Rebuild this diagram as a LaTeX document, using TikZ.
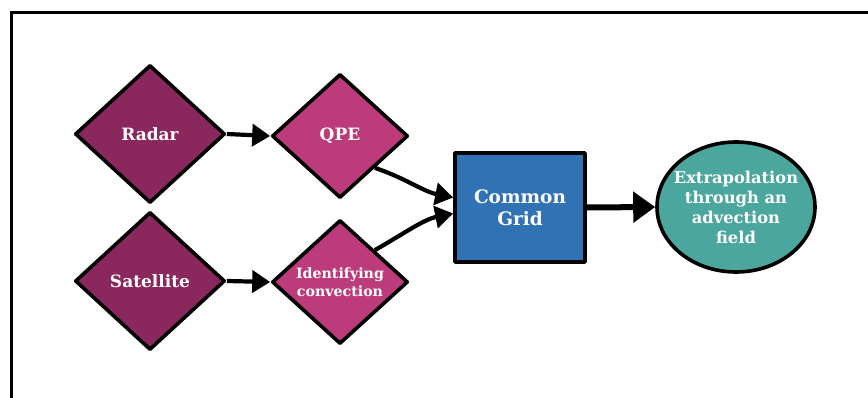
\documentclass[tikz,border=0pt]{standalone}
\usepackage{fontspec}
\setmainfont{DejaVu Serif}
\usetikzlibrary{shapes.geometric,arrows.meta,calc}

\definecolor{srcpurple}{HTML}{8A285D}
\definecolor{procpink}{HTML}{BC3C7B}
\definecolor{gridblue}{HTML}{3172B4}
\definecolor{outteal}{HTML}{4BA79D}

\tikzset{
  box/.style={draw=black,line width=3.6pt,text=white,align=center,inner sep=0pt,line join=round},
  srcdiamond/.style={box,diamond,fill=srcpurple,minimum width=150pt,minimum height=138pt,font=\bfseries\fontsize{17}{20}\selectfont},
  procdiamond/.style={box,diamond,fill=procpink,minimum width=136pt,minimum height=124pt},
  flow/.style={line width=4.2pt,-{Triangle[length=18pt,width=22pt]}},
  bigflow/.style={line width=6pt,-{Triangle[length=22pt,width=30pt]}},
}

\begin{document}
\begin{tikzpicture}[x=1pt,y=-1pt]
  \useasboundingbox (0,0) rectangle (868,398);
  % frame (runs off the right and bottom edges)
  \draw[line width=3pt] (11.5,400) -- (11.5,12.5) -- (870,12.5);

  \node[srcdiamond] (radar) at (150,134) {Radar};
  \node[srcdiamond] (sat) at (150,281) {Satellite};
  \node[procdiamond,font=\bfseries\fontsize{17}{20}\selectfont] (qpe) at (340,136) {QPE};
  \node[procdiamond,font=\bfseries\fontsize{14.2}{18}\selectfont] (conv) at (340,282) {Identifying\\convection};
  \node[box,rectangle,fill=gridblue,minimum width=130pt,minimum height=109pt,
        font=\bfseries\fontsize{18.5}{22}\selectfont] (grid) at (520,207.5) {Common\\Grid};
  % fixed-size ellipse; its text is set on top so it cannot widen the shape
  \node[box,ellipse,fill=outteal,minimum width=158pt,minimum height=130pt] (extra) at (736,207) {};
  \node[text=white,align=center,inner sep=0pt,font=\bfseries\fontsize{16.3}{20}\selectfont]
        (extratext) at (extra.center) {Extrapolation\\through an\\advection\\field};

  \draw[flow] (radar.east) -- (qpe.west);
  \draw[flow] (sat.east) -- (conv.west);
  \draw[flow] ($(qpe.east)!0.5!(qpe.south)$) .. controls +(30,10) and +(-30,-6) .. ([yshift=10pt]grid.west);
  \draw[flow] ($(conv.east)!0.5!(conv.north)$) .. controls +(25,-14) and +(-30,6) .. ([yshift=-6pt]grid.west);
  \draw[bigflow] (grid.east) -- (extra.west);
\end{tikzpicture}
\end{document}
